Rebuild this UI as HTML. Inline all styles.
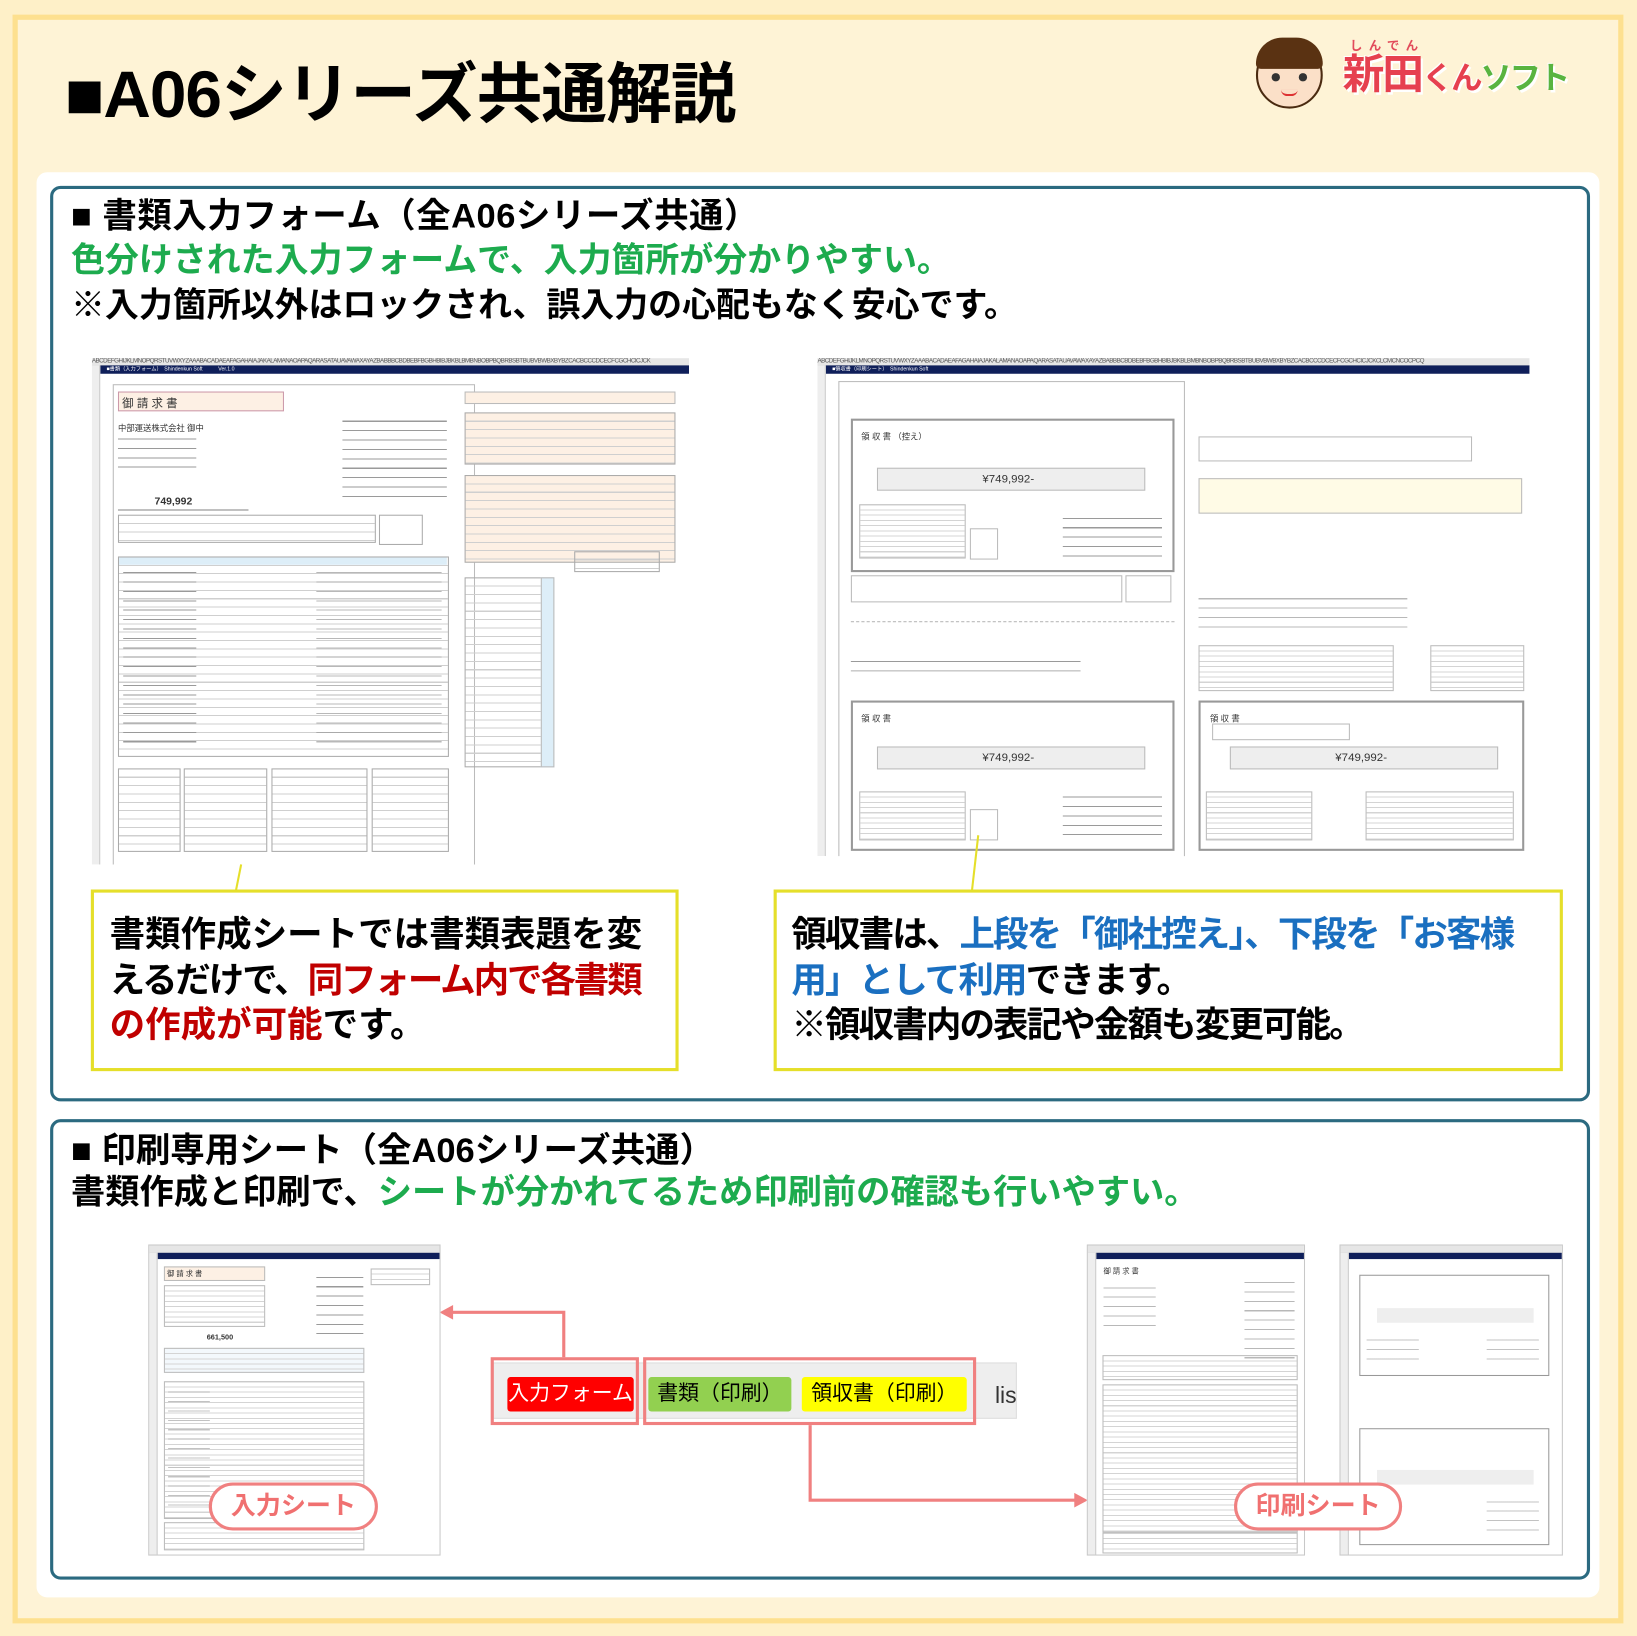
<!DOCTYPE html>
<html><head><meta charset="utf-8">
<style>
html,body{margin:0;padding:0;background:#fef0c8;}
body{width:1637px;height:1636px;overflow:hidden;position:relative;}
#w{position:absolute;left:0;top:0;width:1568px;height:1567px;transform:scale(1.04401);transform-origin:0 0;font-family:"Liberation Sans","Noto Sans CJK JP",sans-serif;}
.a{position:absolute;}
.t{position:absolute;white-space:nowrap;font-weight:bold;line-height:1;}
.sheet{position:absolute;background:#fff;border:1px solid #c8c8c8;overflow:hidden;}
.sheet .ch{position:absolute;left:0;right:0;top:0;height:7px;background:#e6e6e6;border-bottom:1px solid #bbb;font-size:6px;line-height:7px;color:#555;letter-spacing:-0.5px;}
.sheet .nv{position:absolute;left:8px;right:0;top:7px;height:8px;background:#0f1f5a;color:#fff;font-size:5px;line-height:8px;padding-left:6px;}
.sheet .rn{position:absolute;left:0;top:7px;bottom:0;width:7px;background:#eeeeee;border-right:1px solid #ccc;}
.ln{position:absolute;background:repeating-linear-gradient(to bottom,transparent 0 7px,#cfcfcf 7px 8px);border:1px solid #aaa;}
.lnf{position:absolute;background:repeating-linear-gradient(to bottom,transparent 0 4px,#d4d4d4 4px 5px);border:1px solid #bbb;}
.tx{position:absolute;background:repeating-linear-gradient(to bottom,transparent 0 5px,#9a9a9a 5px 6px,transparent 6px 9px);}
.pe{background-color:#fdf0e4;}
.bl{background:#ddeef8;}
.st{position:absolute;font-size:8px;color:#333;white-space:nowrap;}
</style></head><body><div id="w">
<div class="a" style="left:12px;top:14px;width:1543px;height:1541px;background:#fef3d6;border:5px solid #fde08f;box-sizing:border-box;"></div>
<div class="t" style="left:62px;top:60px;font-size:63px;letter-spacing:-1px;color:#000;">■A06シリーズ共通解説</div>
<div class="a" style="left:1203px;top:40px;width:64px;height:64px;border-radius:50%;background:#fbe0c8;border:2px solid #4a2a10;box-sizing:border-box;"></div>
<div class="a" style="left:1203px;top:36px;width:64px;height:30px;border-radius:32px 32px 6px 6px;background:#5a3212;"></div>
<div class="a" style="left:1218px;top:70px;width:8px;height:8px;border-radius:50%;background:#333;"></div>
<div class="a" style="left:1244px;top:70px;width:8px;height:8px;border-radius:50%;background:#333;"></div>
<div class="a" style="left:1227px;top:86px;width:16px;height:4px;border-bottom:2px solid #d33;border-radius:0 0 8px 8px;"></div>
<div class="t" style="left:1293px;top:38px;font-size:12px;color:#e24b5b;letter-spacing:6px;">しんでん</div>
<div class="t" style="left:1286px;top:52px;font-size:40px;color:#e6404f;letter-spacing:-2px;text-shadow:2px 2px 0 #fff,-1px -1px 0 #fff;">新田<span style="font-size:30px;">くん</span><span style="font-size:30px;color:#59b440;">ソフト</span></div>
<div class="a" style="left:35px;top:165px;width:1497px;height:1365px;background:#fff;border-radius:10px;"></div>
<div class="a" style="left:48px;top:178px;width:1475px;height:877px;border:3px solid #2b6a80;border-radius:10px;box-sizing:border-box;"></div>
<div class="t" style="left:68px;top:190px;font-size:33px;letter-spacing:0.5px;">■ 書類入力フォーム（全A06シリーズ共通）</div>
<div class="t" style="left:68px;top:233px;font-size:32.5px;color:#1dab4e;">色分けされた入力フォームで、入力箇所が分かりやすい。</div>
<div class="t" style="left:68px;top:276px;font-size:32.5px;">※入力箇所以外はロックされ、誤入力の心配もなく安心です。</div>

<div class="sheet" style="left:88px;top:343px;width:572px;height:485px;border:none;">
 <div class="ch">ABCDEFGHIJKLMNOPQRSTUVWXYZAAABACADAEAFAGAHAIAJAKALAMANAOAPAQARASATAUAVAWAXAYAZBABBBCBDBEBFBGBHBIBJBKBLBMBNBOBPBQBRBSBTBUBVBWBXBYBZCACBCCCDCECFCGCHCICJCK</div>
 <div class="nv">■書類（入力フォーム）　Shindenkun Soft　　　Ver.1.0</div>
 <div class="rn"></div>
 <div class="a" style="left:20px;top:25px;width:345px;height:460px;border:1px solid #bbb;"></div>
 <div class="a pe" style="left:25px;top:32px;width:157px;height:17px;border:1px solid #c9a;"><span class="st" style="font-size:11px;top:2px;left:3px;">御 請 求 書</span></div>
 <div class="st" style="left:25px;top:62px;">中部運送株式会社 御中</div>
 <div class="tx" style="left:25px;top:72px;width:75px;height:36px;"></div>
 <div class="tx" style="left:240px;top:55px;width:100px;height:85px;"></div>
 <div class="st" style="left:60px;top:132px;font-size:10px;font-weight:bold;">749,992</div>
 <div class="a" style="left:25px;top:145px;width:125px;height:1px;background:#888;"></div>
 <div class="ln" style="left:25px;top:150px;width:245px;height:25px;"></div>
 <div class="a" style="left:275px;top:150px;width:40px;height:27px;border:1px solid #aaa;"></div>
 <div class="ln" style="left:25px;top:190px;width:315px;height:190px;"></div>
 <div class="a bl" style="left:26px;top:191px;width:314px;height:7px;"></div>
 <div class="tx" style="left:30px;top:200px;width:70px;height:175px;"></div>
 <div class="tx" style="left:215px;top:200px;width:120px;height:175px;opacity:.7;"></div>
 <div class="ln" style="left:25px;top:393px;width:58px;height:78px;"></div>
 <div class="ln" style="left:88px;top:393px;width:78px;height:78px;"></div>
 <div class="ln" style="left:172px;top:393px;width:90px;height:78px;"></div>
 <div class="ln" style="left:268px;top:393px;width:72px;height:78px;"></div>
 <div class="a pe" style="left:357px;top:32px;width:200px;height:10px;border:1px solid #bbb;"></div>
 <div class="ln pe" style="left:357px;top:52px;width:200px;height:48px;"></div>
 <div class="ln pe" style="left:357px;top:112px;width:200px;height:82px;"></div>
 <div class="ln" style="left:357px;top:210px;width:84px;height:180px;"></div>
 <div class="a bl" style="left:430px;top:210px;width:11px;height:180px;border:1px solid #bbb;"></div>
 <div class="ln" style="left:462px;top:185px;width:80px;height:18px;"></div>
</div>
<div class="sheet" style="left:783px;top:343px;width:682px;height:477px;border:none;">
 <div class="ch">ABCDEFGHIJKLMNOPQRSTUVWXYZAAABACADAEAFAGAHAIAJAKALAMANAOAPAQARASATAUAVAWAXAYAZBABBBCBDBEBFBGBHBIBJBKBLBMBNBOBPBQBRBSBTBUBVBWBXBYBZCACBCCCDCECFCGCHCICJCKCLCMCNCOCPCQ</div>
 <div class="nv">■領収書（印刷シート）　Shindenkun Soft</div>
 <div class="rn"></div>
 <div class="a" style="left:20px;top:22px;width:330px;height:455px;border:1px solid #bbb;"></div>
 <div class="a" style="left:32px;top:58px;width:306px;height:143px;border:2px solid #999;"></div>
 <div class="st" style="left:42px;top:70px;">領 収 書 （控え）</div>
 <div class="a" style="left:57px;top:105px;width:255px;height:20px;background:#eee;border:1px solid #bbb;"><span class="st" style="left:100px;top:4px;font-size:11px;">¥749,992-</span></div>
 <div class="lnf" style="left:40px;top:140px;width:100px;height:50px;"></div>
 <div class="a" style="left:146px;top:163px;width:25px;height:28px;border:1px solid #bbb;"></div>
 <div class="tx" style="left:235px;top:148px;width:95px;height:45px;"></div>
 <div class="a" style="left:32px;top:208px;width:258px;height:24px;border:1px solid #bbb;"></div>
 <div class="a" style="left:295px;top:208px;width:42px;height:24px;border:1px solid #bbb;"></div>
 <div class="a" style="left:32px;top:252px;width:310px;height:0;border-top:1px dashed #bbb;"></div>
 <div class="tx" style="left:32px;top:285px;width:220px;height:15px;"></div>
 <div class="a" style="left:32px;top:328px;width:306px;height:140px;border:2px solid #999;"></div>
 <div class="st" style="left:42px;top:340px;">領 収 書</div>
 <div class="a" style="left:57px;top:372px;width:255px;height:20px;background:#eee;border:1px solid #bbb;"><span class="st" style="left:100px;top:4px;font-size:11px;">¥749,992-</span></div>
 <div class="lnf" style="left:40px;top:415px;width:100px;height:45px;"></div>
 <div class="a" style="left:146px;top:432px;width:25px;height:28px;border:1px solid #bbb;"></div>
 <div class="tx" style="left:235px;top:415px;width:95px;height:45px;"></div>
 <div class="a" style="left:365px;top:75px;width:260px;height:22px;border:1px solid #bbb;"></div>
 <div class="a" style="left:365px;top:115px;width:308px;height:32px;border:1px solid #bbb;background:#fffbe6;"></div>
 <div class="tx" style="left:365px;top:225px;width:200px;height:40px;opacity:.7;"></div>
 <div class="lnf" style="left:365px;top:275px;width:185px;height:42px;"></div>
 <div class="lnf" style="left:587px;top:275px;width:88px;height:42px;"></div>
 <div class="a" style="left:365px;top:328px;width:308px;height:140px;border:2px solid #999;"></div>
 <div class="st" style="left:376px;top:340px;">領 収 書</div>
 <div class="a" style="left:378px;top:350px;width:130px;height:14px;border:1px solid #bbb;"></div>
 <div class="a" style="left:395px;top:372px;width:255px;height:20px;background:#eee;border:1px solid #bbb;"><span class="st" style="left:100px;top:4px;font-size:11px;">¥749,992-</span></div>
 <div class="lnf" style="left:372px;top:415px;width:100px;height:45px;"></div>
 <div class="lnf" style="left:525px;top:415px;width:140px;height:45px;"></div>
</div>
<svg class="a" style="left:0;top:0;" width="1568" height="1567">
 <line x1="231" y1="828" x2="226" y2="853" stroke="#e5df2a" stroke-width="2"/>
 <line x1="937" y1="800" x2="931" y2="853" stroke="#e5df2a" stroke-width="2"/>
 <polyline points="540,1300 540,1257 432,1257" fill="none" stroke="#f08080" stroke-width="3"/>
 <polygon points="421,1257 434,1250 434,1264" fill="#f08080"/>
 <polyline points="776,1365 776,1437 1030,1437" fill="none" stroke="#f08080" stroke-width="3"/>
 <polygon points="1042,1437 1029,1430 1029,1444" fill="#f08080"/>
</svg>
<div class="a" style="left:87px;top:852px;width:563px;height:174px;border:3px solid #e5df2a;box-sizing:border-box;"></div>
<div class="t" style="left:105px;top:874px;font-size:34px;line-height:43.5px;">書類作成シートでは書類表題を変<br><span style="letter-spacing:-2px;">えるだけで、<span style="color:#c00000">同フォーム内で各書類</span></span><br><span style="color:#c00000">の作成が可能</span>です。</div>
<div class="a" style="left:741px;top:852px;width:756px;height:174px;border:3px solid #e5df2a;box-sizing:border-box;"></div>
<div class="t" style="left:758px;top:874px;font-size:34px;line-height:43.5px;letter-spacing:-1.8px;">領収書は、<span style="color:#1a6fc0">上段を「御社控え」、下段を「お客様</span><br><span style="color:#1a6fc0">用」として利用</span>できます。<br>※領収書内の表記や金額も変更可能。</div>

<div class="a" style="left:48px;top:1072px;width:1475px;height:441px;border:3px solid #2b6a80;border-radius:10px;box-sizing:border-box;"></div>
<div class="t" style="left:68px;top:1085px;font-size:33px;">■ 印刷専用シート（全A06シリーズ共通）</div>
<div class="t" style="left:68px;top:1126px;font-size:32.8px;">書類作成と印刷で、<span style="color:#1dab4e">シートが分かれてるため印刷前の確認も行いやすい。</span></div>

<div class="sheet" style="left:142px;top:1192px;width:278px;height:296px;">
 <div class="ch"></div><div class="nv" style="height:6px;"></div><div class="rn"></div>
 <div class="a pe" style="left:14px;top:20px;width:95px;height:12px;border:1px solid #bbb;"><span class="st" style="font-size:7px;top:1px;left:2px;">御 請 求 書</span></div>
 <div class="lnf" style="left:14px;top:38px;width:95px;height:38px;"></div>
 <div class="tx" style="left:160px;top:25px;width:45px;height:60px;"></div>
 <div class="st" style="left:55px;top:85px;font-size:7px;font-weight:bold;">661,500</div>
 <div class="lnf" style="left:14px;top:98px;width:190px;height:22px;background-color:#f3f8fc;"></div>
 <div class="lnf" style="left:14px;top:130px;width:190px;height:130px;"></div>
 <div class="tx" style="left:18px;top:135px;width:40px;height:120px;opacity:.6;"></div>
 <div class="lnf" style="left:14px;top:265px;width:190px;height:25px;"></div>
 <div class="lnf" style="left:212px;top:22px;width:55px;height:14px;"></div>
</div>
<div class="sheet" style="left:1041px;top:1192px;width:207px;height:296px;">
 <div class="ch"></div><div class="nv" style="height:6px;"></div><div class="rn"></div>
 <div class="st" style="left:15px;top:20px;font-size:7px;">御 請 求 書</div>
 <div class="tx" style="left:15px;top:35px;width:50px;height:45px;opacity:.7;"></div>
 <div class="tx" style="left:150px;top:30px;width:48px;height:80px;opacity:.7;"></div>
 <div class="lnf" style="left:14px;top:105px;width:185px;height:22px;"></div>
 <div class="lnf" style="left:14px;top:133px;width:185px;height:140px;"></div>
 <div class="lnf" style="left:14px;top:275px;width:185px;height:18px;"></div>
</div>
<div class="sheet" style="left:1283px;top:1192px;width:212px;height:296px;">
 <div class="ch"></div><div class="nv" style="height:6px;"></div><div class="rn"></div>
 <div class="a" style="left:18px;top:28px;width:180px;height:95px;border:1px solid #999;"></div>
 <div class="a" style="left:35px;top:60px;width:150px;height:14px;background:#eee;"></div>
 <div class="tx" style="left:25px;top:85px;width:50px;height:30px;opacity:.6;"></div>
 <div class="tx" style="left:140px;top:85px;width:50px;height:30px;opacity:.6;"></div>
 <div class="a" style="left:18px;top:175px;width:180px;height:110px;border:1px solid #999;"></div>
 <div class="a" style="left:35px;top:215px;width:150px;height:14px;background:#eee;"></div>
 <div class="tx" style="left:140px;top:240px;width:50px;height:35px;opacity:.6;"></div>
</div>

<div class="a" style="left:472px;top:1305px;width:500px;height:52px;background:#eeeeee;border:1px solid #ddd;"></div>
<div class="a" style="left:470px;top:1300px;width:142px;height:65px;border:3px solid #f08080;box-sizing:border-box;"></div>
<div class="a" style="left:616px;top:1300px;width:319px;height:65px;border:3px solid #f08080;box-sizing:border-box;"></div>
<div class="a" style="left:486px;top:1319px;width:121px;height:33px;background:#ff0000;border-radius:3px;color:#fff;font-size:20px;line-height:33px;text-align:center;">入力フォーム</div>
<div class="a" style="left:621px;top:1319px;width:137px;height:33px;background:#92d050;border-radius:3px;color:#000;font-size:20px;line-height:33px;text-align:center;">書類（印刷）</div>
<div class="a" style="left:768px;top:1319px;width:158px;height:33px;background:#ffff00;border-radius:3px;color:#000;font-size:20px;line-height:33px;text-align:center;">領収書（印刷）</div>
<div class="a" style="left:953px;top:1320px;font-size:22px;color:#333;line-height:33px;">lis</div>
<div class="a" style="left:200px;top:1420px;width:162px;height:46px;border:3px solid #f08080;border-radius:24px;background:#fff;box-sizing:border-box;color:#f07070;font-weight:bold;font-size:24px;line-height:40px;text-align:center;">入力シート</div>
<div class="a" style="left:1182px;top:1420px;width:161px;height:46px;border:3px solid #f08080;border-radius:24px;background:#fff;box-sizing:border-box;color:#f07070;font-weight:bold;font-size:24px;line-height:40px;text-align:center;">印刷シート</div>
</div></body></html>
